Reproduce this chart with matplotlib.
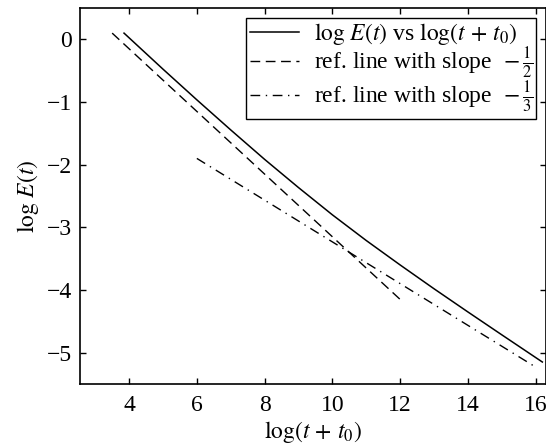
import matplotlib
matplotlib.use('Agg')
import matplotlib.pyplot as plt

plt.rcParams['font.family'] = 'Liberation Serif'
plt.rcParams['mathtext.fontset'] = 'stix'
plt.rcParams['font.size'] = 17

# log E(t) vs log(t + t0)
x_curve = [3.85, 5, 6, 7, 8, 9, 10, 11, 12, 13, 14, 15, 16.2]
y_curve = [0.1, -0.475, -0.965, -1.445, -1.915, -2.365, -2.8, -3.21, -3.6, -3.98, -4.35, -4.715, -5.15]

# reference lines
x_half = [3.5, 12]
y_half = [0.1, -4.15]
x_third = [6, 16]
y_third = [-1.9, -5.23]

fig = plt.figure(figsize=(5.46, 4.48), dpi=100)
ax = fig.add_axes([0.1465, 0.143, 0.853, 0.839])

ax.plot(x_curve, y_curve, 'k-', lw=1.1, label=r'$\log\,E(t)$ vs $\log(t\,+\,t_0)$')
ax.plot(x_half, y_half, 'k', ls=(0, (7, 4)), lw=1.0, label=r'ref. line with slope $\,-\frac{1}{2}$')
ax.plot(x_third, y_third, 'k', ls=(0, (7, 4, 1, 4)), lw=1.0, label=r'ref. line with slope $\,-\frac{1}{3}$')

ax.set_xlim(2.55, 16.3)
ax.set_ylim(-5.5, 0.5)
ax.set_xticks([4, 6, 8, 10, 12, 14, 16])
ax.set_yticks([0, -1, -2, -3, -4, -5])
ax.tick_params(direction='in', top=True, right=True, length=4, width=1)
ax.tick_params(axis='x', pad=8)
ax.tick_params(axis='y', pad=6)
for s in ax.spines.values():
    s.set_linewidth(1.2)

ax.set_xlabel(r'$\log(t\,+\,t_0)$', labelpad=2)
ax.set_ylabel(r'$\log\,E(t)$', labelpad=4)

leg = ax.legend(loc='upper right', fancybox=False, edgecolor='k', framealpha=1,
                handlelength=2.1, borderaxespad=0.4, borderpad=0.15, labelspacing=-0.05,
                handletextpad=0.6)
leg.get_frame().set_linewidth(1.0)

fig.savefig('out.png', dpi=100)
